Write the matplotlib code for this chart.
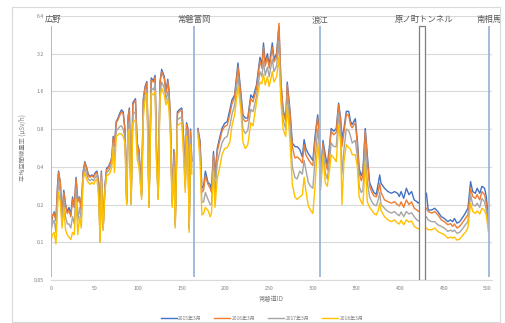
import numpy as np
import matplotlib
matplotlib.use("Agg")
import matplotlib.pyplot as plt
from matplotlib.patches import Rectangle
from matplotlib.ticker import FixedLocator, FixedFormatter, NullLocator

plt.rcParams['font.family'] = ['Noto Sans CJK JP', 'DejaVu Sans']

nan = float('nan')

# ---- data ----
x_ids = [0, 2, 4, 6, 8, 9, 11, 13, 15, 17, 19, 21, 23, 25, 27, 29, 31, 33, 35, 37, 39, 41, 43, 45, 47, 49,
         51, 53, 55, 56.5, 58, 60, 62, 64, 66, 68, 70, 71.5, 73, 75, 77, 79, 81, 83, 85, 87, 88.5, 90, 92, 94,
         97, 99, 101, 104, 106, 108, 110, 111, 112.5, 115, 117.5, 119.5, 121, 123, 125, 127, 130, 132, 134,
         135.5, 137, 139, 141, 142.5, 145, 147.5, 150, 152, 154, 155.5, 157, 158.5, 160, 161.5,
         165,
         168.5, 171, 173, 175, 177, 180, 182.5, 184, 186.3, 188, 190.6, 193.3, 196, 199, 202, 205, 207.5,
         210.5, 214.3, 217.5, 220, 222.7, 225.5, 229, 231.5, 235.5, 239.5, 241.7, 243.5, 245.5, 248, 250,
         253.6, 255.5, 258.5, 261.2, 263.5, 266, 269, 270.7, 273.8, 276.5, 279.5, 282, 285, 288, 290, 292,
         294.8, 297.4, 300, 302.5, 305.5, 307.4,
         308.9, 311.6, 314.2, 316.5, 319.2, 321, 324, 326.8, 329.5, 331.8, 333.3, 335.6, 338.3, 341, 343.2,
         345, 348.6, 351, 353, 355.4, 357.3, 360, 362.3, 365, 367.6, 369.9, 372.6, 375,
         376.5, 378, 382, 386, 390, 393.5, 397, 399, 401, 404, 407, 410, 413, 416, 419, 421, 428, 430, 432,
         436, 439.5, 443, 447, 450.5, 454.5, 457.5, 460, 462, 465, 468, 472, 474.5, 477.5, 480.5, 483, 486,
         488, 491, 493.5, 496.5, 498.5, 501]

v2015 = [.13, .16, .175, .15, .30, .37, .30, .16, .26, .20, .175, .19, .165, .23, .19, .33, .22, .23, .18, .36,
         .44, .40, .35, .335, .345, .335, .36, .37, .30, .11, .37, .13, .28, .39, .40, .43, .48, .70, .60, .92,
         .98, 1.07, 1.14, 1.10, .80, .21, 1.00, 1.18, .21, 1.30, 1.40, .62, .55, .24, 1.40, 1.75, 1.92, .95,
         .20, 2.05, 1.95, 2.15, .60, .23, 1.90, 2.40, 2.10, 1.60, 2.00, 1.60, .95, .21, .55, .14, 1.10, 1.15,
         1.18, .70, .30, .90, .82, .13, .80, .45,
         nan,
         .81, .64, .27, .28, .37, .30, .29, .26, .53, .34, .56, .68, .81, .89, .92, 1.14, 1.37, 1.50, 2.70,
         1.60, 1.04, .98, .98, 1.50, 1.42, 1.80, 3.00, 2.60, 3.90, 2.70, 3.20, 2.60, 3.90, 2.90, 3.20, 5.30,
         1.85, 1.14, .95, 1.90, 1.14, .62, .58, .58, .55, .48, .66, .56, .51, .48, .45, .70, 1.04, .79,
         .32, .65, .50, .41, .60, .81, .77, .81, 1.29, .97, .68, .81, 1.11, 1.11, .92, .87, .97, .64, .39, .34,
         .37, .81, .50, .30, .27, .25, .24, .30,
         .345, .296, .27, .254, .246, .254, .246, .232, .254, .224, .27, .24, .254, .218, .211, .205, .25,
         .246, .181, .181, .187, .176, .16, .155, .146, .151, .146, .155, .142, .146, .16, .171, .187, .305,
         .254, .246, .27, .246, .28, .27, .232, .15]

v2016 = [.135, .165, .17, .15, .29, .36, .30, .16, .25, .20, .17, .18, .16, .22, .19, .32, .21, .23, .18, .35,
         .43, .39, .34, .33, .34, .33, .35, .36, .29, .11, .36, .13, .27, .38, .39, .42, .47, .68, .58, .90,
         .95, 1.03, 1.10, 1.06, .78, .21, .97, 1.14, .21, 1.26, 1.36, .60, .53, .24, 1.36, 1.70, 1.86, .92,
         .20, 1.98, 1.90, 2.08, .58, .23, 1.84, 2.30, 2.02, 1.55, 1.92, 1.55, .92, .21, .53, .14, 1.06, 1.11,
         1.14, .68, .29, .87, .79, .13, .77, .44,
         nan,
         .79, .60, .25, .26, .34, .29, .27, .25, .50, .32, .53, .64, .77, .84, .86, 1.05, 1.28, 1.45, 2.50,
         1.50, .97, .92, .94, 1.40, 1.32, 1.68, 2.80, 2.45, 3.60, 2.55, 3.00, 2.45, 3.60, 2.75, 3.00, 5.60,
         1.90, 1.10, .92, 1.80, 1.08, .58, .47, .48, .46, .43, .60, .50, .46, .43, .41, .64, .98, .75,
         .30, .62, .45, .38, .56, .77, .72, .76, 1.25, .92, .58, .75, 1.05, 1.03, .86, .82, .90, .60, .36, .31,
         .34, .77, .45, .28, .25, .235, .23, .26,
         .296, .25, .218, .211, .205, .211, .199, .195, .21, .19, .218, .20, .21, .187, .181, .176, .19,
         .187, .176, .171, .176, .166, .151, .146, .138, .141, .134, .14, .13, .134, .146, .155, .166, .27,
         .232, .224, .24, .218, .254, .24, .205, .14]

v2017 = [.12, .14, .15, .12, .24, .30, .25, .14, .22, .16, .14, .14, .13, .16, .14, .27, .15, .19, .15, .33,
         .39, .35, .32, .31, .32, .31, .33, .34, .25, .10, .33, .125, .26, .36, .37, .39, .43, .62, .45, .78,
         .80, .84, .85, .80, .68, .20, .85, .92, .20, 1.05, 1.10, .52, .46, .23, 1.15, 1.50, 1.65, .80,
         .19, 1.70, 1.65, 1.80, .50, .22, 1.55, 1.90, 1.70, 1.38, 1.60, 1.30, .80, .20, .46, .135, .95, .98,
         1.00, .58, .27, .78, .65, .125, .68, .40,
         nan,
         .76, .52, .21, .21, .25, .22, .20, .20, .45, .24, .43, .52, .62, .68, .70, .85, 1.05, 1.25, 2.10,
         1.30, .80, .74, .78, 1.15, 1.10, 1.45, 2.30, 2.10, 2.80, 2.15, 2.50, 2.10, 2.90, 2.30, 2.55, 4.00,
         1.50, .95, .80, 1.50, .85, .40, .33, .32, .37, .35, .45, .38, .30, .28, .27, .45, .80, .60,
         .28, .56, .36, .32, .46, .62, .58, .58, 1.05, .76, .35, .55, .80, .78, .70, .62, .65, .48, .28, .25,
         .26, .58, .30, .23, .21, .20, .195, .22,
         .25, .20, .187, .176, .171, .176, .166, .163, .175, .16, .176, .168, .172, .16, .151, .148, .162,
         .16, .151, .146, .146, .138, .134, .13, .122, .125, .122, .125, .118, .12, .13, .138, .146, .24,
         .199, .195, .205, .19, .224, .21, .181, .13]

v2018 = [.10, .115, .12, .097, .20, .25, .21, .13, .19, .125, .115, .11, .105, .12, .115, .22, .115, .16, .13,
         .31, .36, .32, .30, .29, .30, .29, .31, .32, .22, .10, .31, .125, .25, .345, .345, .36, .40, .58, .36,
         .70, .72, .74, .73, .70, .62, .20, .75, .80, .20, .90, .95, .46, .40, .22, 1.00, 1.37, 1.55, .70,
         .19, 1.55, 1.50, 1.60, .45, .22, 1.40, 1.70, 1.50, 1.25, 1.40, 1.10, .70, .19, .40, .13, .85, .88,
         .90, .50, .25, .70, .55, .12, .60, .35,
         nan,
         .72, .44, .165, .17, .19, .18, .16, .17, .37, .19, .32, .39, .50, .56, .57, .63, .86, 1.04, 1.75,
         1.17, .63, .56, .60, .90, .85, 1.30, 1.90, 1.85, 2.20, 1.80, 2.10, 1.75, 2.30, 1.90, 2.10, 3.00,
         1.30, .80, .70, 1.25, .65, .29, .23, .22, .23, .24, .33, .26, .195, .18, .17, .28, .62, .45,
         .26, .50, .30, .28, .38, .50, .47, .44, .86, .64, .20, .44, .60, .57, .55, .50, .50, .40, .23, .21,
         .20, .44, .21, .19, .18, .17, .165, .18,
         .205, .18, .16, .151, .146, .151, .142, .14, .15, .138, .151, .145, .148, .134, .13, .128, .132,
         .13, .126, .126, .13, .122, .118, .115, .108, .11, .108, .11, .104, .106, .115, .12, .13, .205,
         .176, .17, .178, .168, .187, .18, .166, .12]

series_names = ['2015年3月', '2016年3月', '2017年3月', '2018年3月']
series_colors = ['#4472C4', '#ED7D31', '#A5A5A5', '#FFC000']

station_names = ['広野', '常磐富岡', '浪江', '南相馬']
station_ids = [0, 164, 308, 502]
station_label_x = [3, 164, 308, 502]
tunnel_name = '原ノ町トンネル'
tunnel_range = [422, 428]

y_ticks = [0.05, 0.1, 0.2, 0.4, 0.8, 1.6, 3.2, 6.4]
y_tick_labels = ['0.05', '0.1', '0.2', '0.4', '0.8', '1.6', '3.2', '6.4']
x_ticks = [0, 50, 100, 150, 200, 250, 300, 350, 400, 450, 500]

# ---- plot ----
fig = plt.figure(figsize=(5.05, 3.23), dpi=100)
fig.patches.append(Rectangle((12 / 505, 1 / 323), 488 / 505, 315 / 323, transform=fig.transFigure,
                             facecolor='none', edgecolor='#d9d9d9', lw=0.8))
ax = fig.add_axes([0.1004, 0.1331, 0.8738, 0.8174])

for vals, name, col in zip([v2015, v2016, v2017, v2018], series_names, series_colors):
    ax.plot(x_ids, vals, color=col, lw=1.0, label=name, zorder=3)

line_top = 5.3
for sid, lx, sname in zip(station_ids, station_label_x, station_names):
    ax.plot([sid, sid], [0.0528, line_top], color='#9DB5DA', lw=1.3, zorder=4, solid_capstyle='butt')
    ax.text(lx, 6.0, sname, ha='center', va='center', fontsize=6, color='#595959', zorder=6)

ax.add_patch(Rectangle((tunnel_range[0], 0.05), tunnel_range[1] - tunnel_range[0], line_top - 0.05,
                       facecolor='white', edgecolor='#7f7f7f', lw=0.9, zorder=5))
ax.text(sum(tunnel_range) / 2 + 2, 6.0, tunnel_name, ha='center', va='center', fontsize=6,
        color='#595959', zorder=6)

ax.set_yscale('log', base=2)
ax.set_ylim(0.05, 6.4)
ax.set_xlim(0, 505)
ax.yaxis.set_major_locator(FixedLocator(y_ticks))
ax.yaxis.set_major_formatter(FixedFormatter(y_tick_labels))
ax.yaxis.set_minor_locator(NullLocator())
ax.set_xticks(x_ticks)

ax.grid(axis='y', color='#d9d9d9', lw=0.8, zorder=0)
ax.set_axisbelow(True)
for s in ['top', 'right', 'left']:
    ax.spines[s].set_visible(False)
ax.spines['bottom'].set_color('#d9d9d9')
ax.spines['bottom'].set_linewidth(0.8)
ax.tick_params(axis='both', length=0, labelsize=3.8, labelcolor='#7f7f7f')
ax.tick_params(axis='y', pad=5)
ax.tick_params(axis='x', pad=4)

ax.set_xlabel('常磐道ID', fontsize=4.5, color='#7f7f7f', labelpad=3)
ax.set_ylabel('平均空間線量率 (μSv/h)', fontsize=4.5, color='#7f7f7f', labelpad=5)

fig.legend(loc='center', bbox_to_anchor=(262 / 505, 1 - 318 / 323), ncol=4, frameon=False,
           fontsize=3.6, handlelength=3.2, columnspacing=2.5, labelcolor='#7f7f7f', handletextpad=0.3)

fig.savefig('out.png', dpi=100)
